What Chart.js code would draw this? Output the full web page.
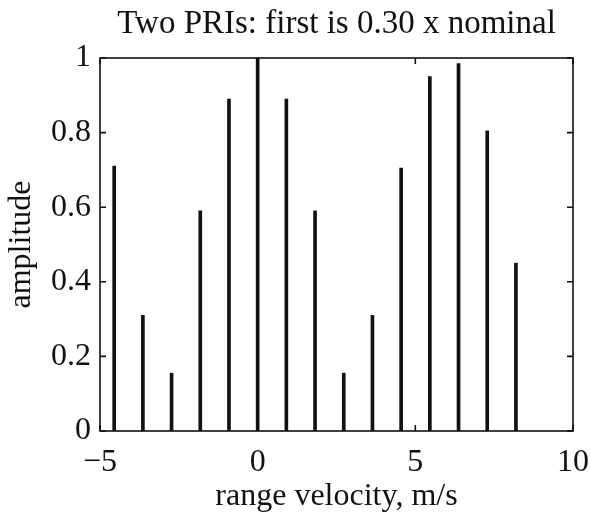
<!DOCTYPE html>
<html>
<head>
<meta charset="utf-8">
<script src="https://cdn.jsdelivr.net/npm/chart.js@4"></script>
<style>
  html, body { margin: 0; padding: 0; background: #fff; }
  #wrap { width: 590px; height: 517px; }
</style>
</head>
<body>
<div id="wrap"><canvas id="stemChart"></canvas></div>
<script>
// Stem positions (range velocity, m/s) and their amplitudes
const velocities = [-4.55, -3.64, -2.73, -1.82, -0.91, 0, 0.91, 1.82, 2.73, 3.64, 4.55, 5.46, 6.37, 7.28, 8.19];
const amplitudes = [0.71, 0.31, 0.155, 0.59, 0.89, 1.0, 0.89, 0.59, 0.155, 0.31, 0.705, 0.95, 0.985, 0.805, 0.45];

const xTicks = [-5, 0, 5, 10];
const yTicks = [0, 0.2, 0.4, 0.6, 0.8, 1];

const titleText = 'Two PRIs: first is 0.30 x nominal';
const xLabel = 'range velocity, m/s';
const yLabel = 'amplitude';

const fontFamily = '"Liberation Serif", "Times New Roman", serif';

// Build the {x, y} points for the bar (stem) dataset
let stemPoints = velocities.map((v, i) => ({ x: v, y: amplitudes[i] }));

// Draws the matlab-ish box and the inward tick marks
const boxPlugin = {
  id: 'boxTicks',
  afterDatasetsDraw(chart) {
    const ctx = chart.ctx;
    const area = chart.chartArea;
    const xs = chart.scales.x;
    const ys = chart.scales.y;
    const tick = 6;
    ctx.save();
    ctx.strokeStyle = '#111';
    ctx.lineWidth = 1.6;
    ctx.strokeRect(area.left, area.top, area.right - area.left, area.bottom - area.top);
    ctx.beginPath();
    xTicks.forEach(v => {
      let px = xs.getPixelForValue(v);
      ctx.moveTo(px, area.bottom);
      ctx.lineTo(px, area.bottom - tick);
      ctx.moveTo(px, area.top);
      ctx.lineTo(px, area.top + tick);
    });
    yTicks.forEach(v => {
      let py = ys.getPixelForValue(v);
      ctx.moveTo(area.left, py);
      ctx.lineTo(area.left + tick, py);
      ctx.moveTo(area.right, py);
      ctx.lineTo(area.right - tick, py);
    });
    ctx.stroke();
    ctx.restore();
  }
};

let ctx = document.getElementById('stemChart').getContext('2d');

new Chart(ctx, {
  type: 'bar',
  data: {
    datasets: [{
      label: 'amplitude',
      data: stemPoints,
      backgroundColor: '#111',
      borderWidth: 0,
      barThickness: 3
    }]
  },
  options: {
    responsive: true,
    maintainAspectRatio: false,
    animation: false,
    layout: { padding: 0 },
    plugins: {
      legend: { display: false },
      tooltip: { enabled: false },
      title: { display: false }
    },
    scales: {
      x: {
        type: 'linear',
        position: 'bottom',
        min: -5,
        max: 10,
        offset: false,
        afterBuildTicks: s => { s.ticks = xTicks.map(v => ({ value: v })); },
        afterFit: s => { s.height = 86; s.paddingRight = 0; s.paddingLeft = 0; },
        grid: { display: false, drawTicks: false, offset: false },
        border: { display: false },
        ticks: {
          color: '#111',
          padding: 12,
          maxRotation: 0,
          font: { family: fontFamily, size: 32 },
          callback: v => (v < 0 ? '\u2212' + Math.abs(v) : String(v))
        },
        title: {
          display: true,
          text: xLabel,
          color: '#111',
          padding: { top: 0, bottom: 1 },
          font: { family: fontFamily, size: 32 }
        }
      },
      x2: {
        type: 'linear',
        position: 'top',
        min: -5,
        max: 10,
        offset: false,
        afterFit: s => { s.height = 58; s.paddingRight = 0; s.paddingLeft = 0; },
        grid: { display: false, drawTicks: false, offset: false },
        border: { display: false },
        ticks: { display: false },
        title: {
          display: true,
          text: titleText,
          color: '#111',
          padding: { top: 5, bottom: 0 },
          font: { family: fontFamily, size: 33 }
        }
      },
      y: {
        type: 'linear',
        position: 'left',
        min: 0,
        max: 1,
        afterBuildTicks: s => { s.ticks = yTicks.map(v => ({ value: v })); },
        afterFit: s => { s.width = 100; s.paddingTop = 0; s.paddingBottom = 0; },
        grid: { display: false, drawTicks: false },
        border: { display: false },
        ticks: {
          color: '#111',
          padding: 9,
          font: { family: fontFamily, size: 32 },
          callback: v => String(+v.toFixed(1))
        },
        title: {
          display: true,
          text: yLabel,
          color: '#111',
          padding: { top: 2, bottom: 0 },
          font: { family: fontFamily, size: 32 }
        }
      },
      y2: {
        type: 'linear',
        position: 'right',
        min: 0,
        max: 1,
        afterFit: s => { s.width = 17; },
        grid: { display: false, drawTicks: false },
        border: { display: false },
        ticks: { display: false }
      }
    }
  },
  plugins: [boxPlugin]
});
</script>
</body>
</html>
